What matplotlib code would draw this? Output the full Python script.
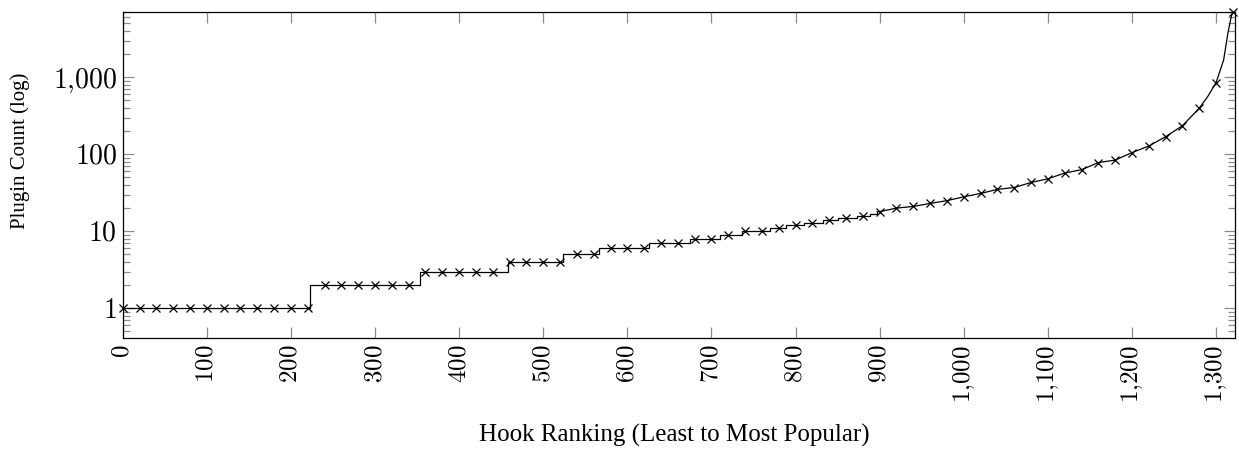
import matplotlib
matplotlib.use("Agg")
import matplotlib.pyplot as plt
from matplotlib.ticker import LogLocator, NullFormatter, FixedLocator

# ---- data ----
# low region: integer plateaus (rank where a count starts, count)
step_rank = [0, 223, 354, 458, 523, 566, 626, 675, 710, 736, 770, 789, 810, 833, 850, 873, 888, 897]
step_count = [1, 2, 3, 4, 5, 6, 7, 8, 9, 10, 11, 12, 13, 14, 15, 16, 17, 18]

# upper region: smooth part of the curve
curve_rank = [897, 900, 920, 940, 960, 980, 1000, 1020, 1040, 1060, 1080, 1100, 1120, 1140,
              1160, 1180, 1200, 1220, 1240, 1260, 1280, 1290, 1300, 1309, 1314, 1318, 1320]
curve_count = [18, 18, 20, 21, 23, 25, 28, 31, 35, 37, 43, 48, 57, 63,
               78, 84, 105, 128, 169, 235, 396, 560, 851, 1680, 3700, 6100, 7100]

# marked points (every 20th hook)
mark_rank = [0, 20, 40, 60, 80, 100, 120, 140, 160, 180, 200, 220,
             240, 260, 280, 300, 320, 340,
             360, 380, 400, 420, 440,
             460, 480, 500, 520,
             540, 560,
             580, 600, 620,
             640, 660, 680, 700, 720, 740, 760, 780, 800, 820, 840, 860, 880,
             900, 920, 940, 960, 980, 1000, 1020, 1040, 1060, 1080, 1100, 1120, 1140,
             1160, 1180, 1200, 1220, 1240, 1260, 1280, 1300, 1320]
mark_count = [1, 1, 1, 1, 1, 1, 1, 1, 1, 1, 1, 1,
              2, 2, 2, 2, 2, 2,
              3, 3, 3, 3, 3,
              4, 4, 4, 4,
              5, 5,
              6, 6, 6,
              7, 7, 8, 8, 9, 10, 10, 11, 12, 13, 14, 15, 16,
              18, 20, 21, 23, 25, 28, 31, 35, 37, 43, 48, 57, 63,
              78, 84, 105, 128, 169, 235, 396, 851, 7100]

x_ticks = [0, 100, 200, 300, 400, 500, 600, 700, 800, 900, 1000, 1100, 1200, 1300]
x_tick_labels = [r'$0$', r'$100$', r'$200$', r'$300$', r'$400$', r'$500$', r'$600$',
                 r'$700$', r'$800$', r'$900$', r'$1{,}000$', r'$1{,}100$',
                 r'$1{,}200$', r'$1{,}300$']
y_ticks = [1, 10, 100, 1000]
y_tick_labels = [r'$1$', r'$10$', r'$100$', r'$1{,}000$']

x_label = 'Hook Ranking (Least to Most Popular)'
y_label = 'Plugin Count (log)'

# ---- plot ----
plt.rcParams['mathtext.fontset'] = 'cm'
plt.rcParams['font.family'] = ['Liberation Serif', 'DejaVu Serif']

fig = plt.figure(figsize=(12.39, 4.49), dpi=100)
ax = fig.add_axes([122.7 / 1239, 1 - 337.7 / 449, (1235 - 122.7) / 1239, (337.7 - 11.7) / 449])

ax.plot(step_rank + [curve_rank[0]], step_count + [step_count[-1]],
        drawstyle='steps-post', color='black', lw=0.9)
ax.plot(curve_rank, curve_count, color='black', lw=0.9)
ax.plot(mark_rank, mark_count, linestyle='none', marker='x', color='black',
        markersize=5.3, markeredgewidth=0.9, clip_on=False, zorder=5)

ax.set_yscale('log')
ax.set_xlim(0, 1322.5)
ax.set_ylim(0.415, 7100)

ax.xaxis.set_major_locator(FixedLocator(x_ticks))
ax.set_xticklabels(x_tick_labels, rotation=90)
ax.yaxis.set_major_locator(FixedLocator(y_ticks))
ax.set_yticklabels(y_tick_labels)
ax.yaxis.set_minor_locator(LogLocator(base=10, subs=range(2, 10), numticks=20))
ax.yaxis.set_minor_formatter(NullFormatter())

ax.tick_params(which='both', direction='in', top=True, right=True, color='#8c8c8c', width=0.9)
ax.tick_params(which='major', length=8, pad=5)
ax.tick_params(which='minor', length=5)
ax.tick_params(axis='x', which='minor', bottom=False, top=False)
ax.tick_params(axis='x', labelsize=18)
ax.tick_params(axis='y', labelsize=20, pad=4)

for s in ax.spines.values():
    s.set_linewidth(0.9)
    s.set_color('black')

fig.text(20 / 1239, 1 - 151 / 449, y_label, rotation=90, ha='center', va='center', fontsize=15)
fig.text(674 / 1239, 1 - 435 / 449, x_label, ha='center', va='center', fontsize=18)

fig.savefig('out.png', dpi=100)
